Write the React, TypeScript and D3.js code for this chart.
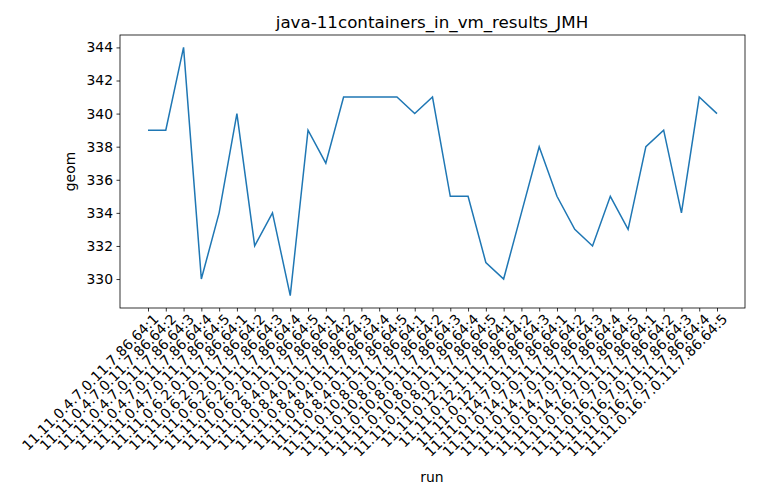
import React, { useEffect, useRef } from "react";
import * as d3 from "d3";

const groups = [
  ["11.11.0.4.7.0.11.7.86", 5],
  ["11.11.0.6.2.0.11.7.86", 5],
  ["11.11.0.8.4.0.11.7.86", 5],
  ["11.11.0.10.8.0.11.7.86", 5],
  ["11.11.0.12.1.11.7.86", 3],
  ["11.11.0.14.7.0.11.7.86", 5],
  ["11.11.0.16.7.0.11.7.86", 5],
] as [string, number][];
const runs: string[] = groups.flatMap(([p, n]) => d3.range(1, n + 1).map((i) => `${p}.64:${i}`));
const geom = [339, 339, 344, 330, 334, 340, 332, 334, 329, 339, 337, 341, 341, 341, 341, 340, 341,
  335, 335, 331, 330, 334, 338, 335, 333, 332, 335, 333, 338, 339, 334, 341, 340];
const yTicks = [330, 332, 334, 336, 338, 340, 342, 344];

export default function App() {
  const ref = useRef<SVGSVGElement>(null);
  useEffect(() => {
    const svg = d3.select(ref.current);
    svg.selectAll("*").remove();
    const L = 120, R = 745, T = 35, B = 308;
    const x = d3.scalePoint<string>().domain(runs).range([148, 717]);
    const y = d3.scaleLinear().domain([328.25, 344.75]).range([B, T]);
    const font = "DejaVu Sans, sans-serif";
    svg.append("rect").attr("x", L).attr("y", T).attr("width", R - L).attr("height", B - T)
      .attr("fill", "none").attr("stroke", "#000").attr("stroke-width", 0.8);
    const xa = svg.append("g").attr("transform", `translate(0,${B})`)
      .call(d3.axisBottom(x).tickSize(3.5).tickPadding(3.5));
    xa.select(".domain").remove();
    xa.selectAll("text").attr("font-size", 13.9).attr("font-family", font)
      .attr("text-anchor", "end").attr("dy", "0.7em").attr("x", 0).attr("y", 0)
      .attr("transform", "translate(4,5) rotate(-45)");
    const ya = svg.append("g").attr("transform", `translate(${L},0)`)
      .call(d3.axisLeft(y).tickValues(yTicks).tickSize(3.5).tickPadding(3.5));
    ya.select(".domain").remove();
    ya.selectAll("text").attr("font-size", 13.9).attr("font-family", font);
    svg.selectAll(".tick line").attr("stroke", "#000").attr("stroke-width", 0.8);
    svg.append("path").datum(geom)
      .attr("d", d3.line<number>().x((_, i) => x(runs[i])!).y((d) => y(d)))
      .attr("fill", "none").attr("stroke", "#1f77b4").attr("stroke-width", 1.5);
    svg.append("text").attr("x", 432).attr("y", 28).attr("text-anchor", "middle")
      .attr("font-size", 16.7).attr("font-family", font).text("java-11containers_in_vm_results_JMH");
    svg.append("text").attr("x", 432).attr("y", 482).attr("text-anchor", "middle")
      .attr("font-size", 13.9).attr("font-family", font).text("run");
    svg.append("text").attr("transform", `translate(75,${(T + B) / 2}) rotate(-90)`)
      .attr("text-anchor", "middle").attr("font-size", 13.9).attr("font-family", font).text("geom");
  }, []);
  return <svg ref={ref} width={760} height={500} style={{ position: "absolute", left: 0, top: 0, background: "#fff" }} />;
}
